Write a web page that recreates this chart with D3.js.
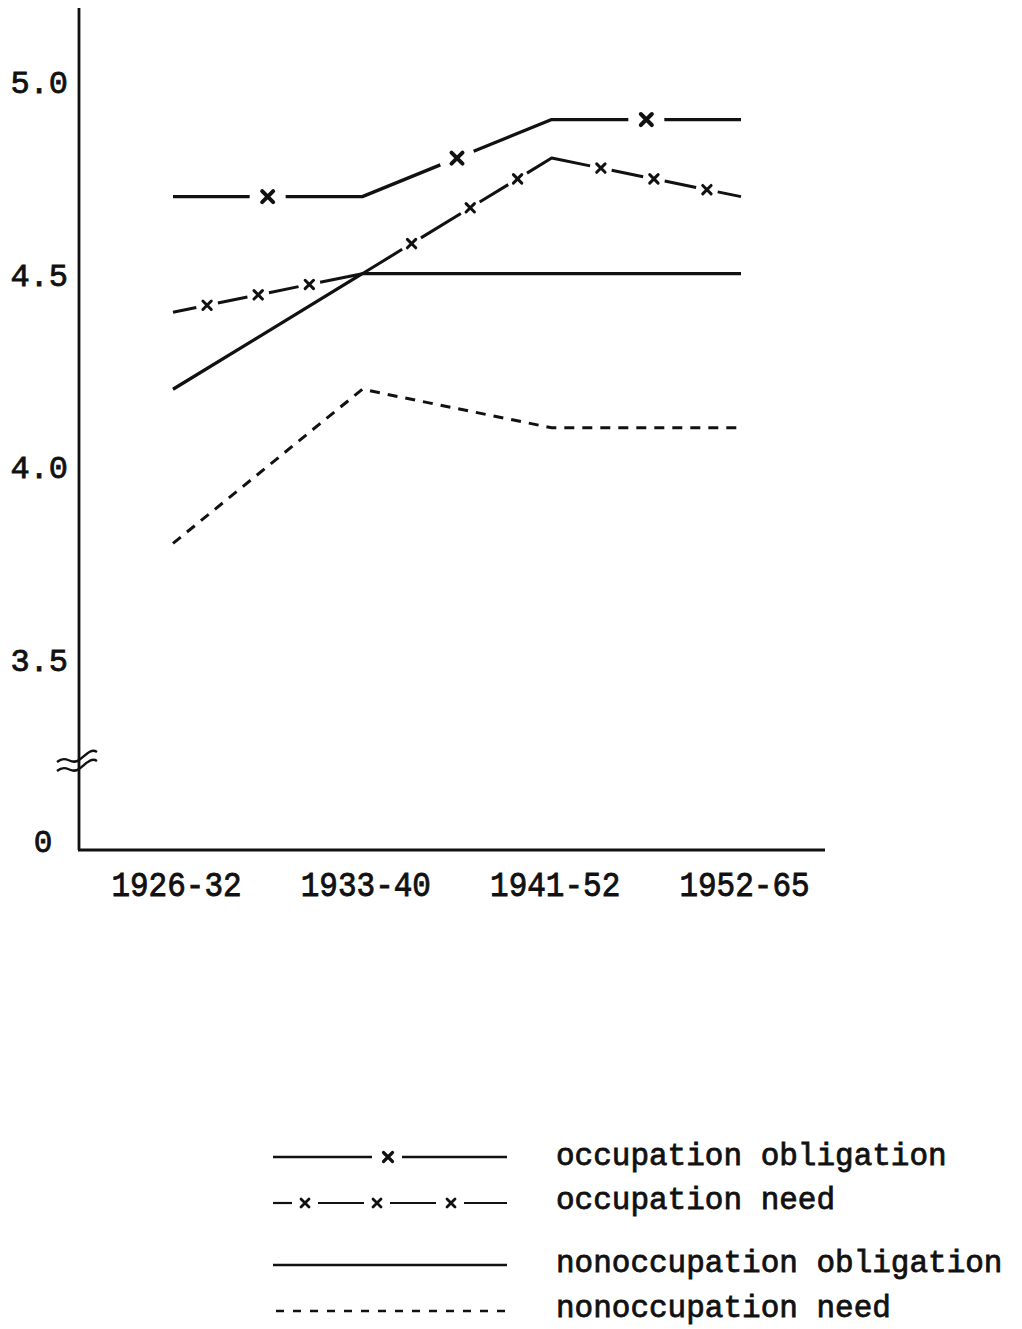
<!DOCTYPE html>
<html>
<head>
<meta charset="utf-8">
<script src="https://cdn.jsdelivr.net/npm/d3@7"></script>
<style>
  html, body { margin: 0; padding: 0; background: #fff; }
  svg { display: block; }
  text { font-family: "Liberation Mono", "DejaVu Sans Mono", monospace; fill: #111; stroke: #111; stroke-width: 0.8px; }
</style>
</head>
<body>
<svg id="chart" width="1022" height="1329"></svg>
<script>
// ---- data ----
const categories = ["1926-32", "1933-40", "1941-52", "1952-65"];
const occupationObligation = [4.7, 4.7, 4.9, 4.9];
const occupationNeed = [4.4, 4.5, 4.8, 4.7];
const nonoccupationObligation = [4.2, 4.5, 4.5, 4.5];
const nonoccupationNeed = [3.8, 4.2, 4.1, 4.1];
const yTickValues = [3.5, 4.0, 4.5, 5.0];
const seriesNames = ["occupation obligation", "occupation need", "nonoccupation obligation", "nonoccupation need"];

// ---- layout ----
const svg = d3.select("#chart");
const ink = "#111";
const x = d3.scalePoint().domain(categories).range([173, 741]);
const y = d3.scaleLinear().domain([3.5, 5.0]).range([659, 81]);
const axisX = 79, axisBottom = 850, axisTop = 8, axisRight = 825;

// axes lines
svg.append("line").attr("x1", axisX).attr("x2", axisX).attr("y1", axisTop).attr("y2", axisBottom)
  .attr("stroke", ink).attr("stroke-width", 2.8);
svg.append("line").attr("x1", axisX - 1).attr("x2", axisRight).attr("y1", axisBottom).attr("y2", axisBottom)
  .attr("stroke", ink).attr("stroke-width", 2.8);

// axis break symbol
const brk = svg.append("g").attr("fill", "none").attr("stroke", ink).attr("stroke-width", 2.4);
[0, 9].forEach(dy => {
  brk.append("path").attr("d",
    `M${axisX - 22},${762 + dy} C${axisX - 12},${754 + dy} ${axisX - 8},${766 + dy} ${axisX},${760 + dy} S${axisX + 12},${748 + dy} ${axisX + 18},${752 + dy}`);
});

// y tick labels
const yAxis = svg.append("g").attr("transform", `translate(${axisX},0)`)
  .call(d3.axisLeft(y).tickValues(yTickValues).tickFormat(d3.format(".1f")).tickSize(0).tickPadding(11));
yAxis.select(".domain").remove();
yAxis.selectAll("text").attr("font-size", 32).attr("font-family", "Liberation Mono, DejaVu Sans Mono, monospace")
  .attr("fill", ink).attr("dy", "0.36em");
svg.append("text").attr("x", 43).attr("y", 852).attr("text-anchor", "middle")
  .attr("font-size", 31).text("0");

// x tick labels
const xAxis = svg.append("g").attr("transform", `translate(3,${axisBottom})`)
  .call(d3.axisBottom(x).tickSize(0).tickPadding(19));
xAxis.select(".domain").remove();
xAxis.selectAll("text").attr("font-size", 31).attr("font-family", "Liberation Mono, DejaVu Sans Mono, monospace")
  .attr("fill", ink).attr("transform", "scale(1,1.12)");

// ---- helpers ----
const line = d3.line().x((d, i) => x(categories[i])).y(d => y(d));

function xMark(g, cx, cy, s, w) {
  g.append("path")
    .attr("d", `M${cx - s},${cy - s}L${cx + s},${cy + s}M${cx + s},${cy - s}L${cx - s},${cy + s}`)
    .attr("stroke", ink).attr("stroke-width", w).attr("stroke-linecap", "round").attr("fill", "none");
}

// draws a polyline with gaps around x-markers at given fractions of each segment
function markedLine(values, fracsPerSeg, gapHalf, markSize, markWidth, lineWidth) {
  const pts = values.map((v, i) => [x(categories[i]), y(v)]);
  const g = svg.append("g");
  const segLens = [];
  for (let i = 0; i < pts.length - 1; i++) {
    segLens.push(Math.hypot(pts[i + 1][0] - pts[i][0], pts[i + 1][1] - pts[i][1]));
  }
  const total = d3.sum(segLens);
  const marks = [];
  let acc = 0;
  fracsPerSeg.forEach((fr, i) => {
    fr.forEach(f => {
      marks.push({
        L: acc + f * segLens[i],
        px: pts[i][0] + f * (pts[i + 1][0] - pts[i][0]),
        py: pts[i][1] + f * (pts[i + 1][1] - pts[i][1])
      });
    });
    acc += segLens[i];
  });
  const dash = [];
  let pos = 0;
  marks.forEach(m => {
    dash.push(Math.max(0, m.L - gapHalf - pos), 2 * gapHalf);
    pos = m.L + gapHalf;
  });
  dash.push(total - pos + 5, 0.001);
  g.append("path").attr("d", line(values)).attr("fill", "none").attr("stroke", ink)
    .attr("stroke-width", lineWidth).attr("stroke-linejoin", "round")
    .attr("stroke-dasharray", dash.join(" "));
  marks.forEach(m => xMark(g, m.px, m.py, markSize, markWidth));
}

// ---- series ----
// nonoccupation need: dashed
svg.append("path").attr("d", line(nonoccupationNeed)).attr("fill", "none").attr("stroke", ink)
  .attr("stroke-width", 3).attr("stroke-dasharray", "10 8");
// nonoccupation obligation: solid
svg.append("path").attr("d", line(nonoccupationObligation)).attr("fill", "none").attr("stroke", ink)
  .attr("stroke-width", 3.3).attr("stroke-linejoin", "round");
// occupation obligation: solid with one x per segment
markedLine(occupationObligation, [[0.5], [0.5], [0.5]], 18, 5.5, 4, 3.3);
// occupation need: dashes with x marks
markedLine(occupationNeed, [[0.18, 0.45, 0.72], [0.26, 0.57, 0.82], [0.26, 0.54, 0.82]], 11, 4.2, 3, 3);

// ---- legend ----
const lx0 = 273, lx1 = 507, textX = 556;
const leg = svg.append("g");
// occupation obligation
leg.append("line").attr("x1", lx0).attr("x2", 372).attr("y1", 1157).attr("y2", 1157).attr("stroke", ink).attr("stroke-width", 2.4);
leg.append("line").attr("x1", 402).attr("x2", lx1).attr("y1", 1157).attr("y2", 1157).attr("stroke", ink).attr("stroke-width", 2.4);
xMark(leg, 388, 1157, 4.5, 3.2);
// occupation need
[[lx0, 292], [318, 364], [390, 436], [464, lx1]].forEach(([a, b]) =>
  leg.append("line").attr("x1", a).attr("x2", b).attr("y1", 1203).attr("y2", 1203).attr("stroke", ink).attr("stroke-width", 2.2));
[305, 377, 451].forEach(cx => xMark(leg, cx, 1203, 4, 2.8));
// nonoccupation obligation
leg.append("line").attr("x1", lx0).attr("x2", lx1).attr("y1", 1265).attr("y2", 1265).attr("stroke", ink).attr("stroke-width", 2.6);
// nonoccupation need
leg.append("line").attr("x1", 276).attr("x2", 512).attr("y1", 1311).attr("y2", 1311).attr("stroke", ink)
  .attr("stroke-width", 2.6).attr("stroke-dasharray", "8 9");

const legendBaselines = [1165, 1209, 1272, 1317];
seriesNames.forEach((n, i) => {
  leg.append("text").attr("x", textX).attr("y", legendBaselines[i]).attr("font-size", 31).text(n);
});
</script>
</body>
</html>
